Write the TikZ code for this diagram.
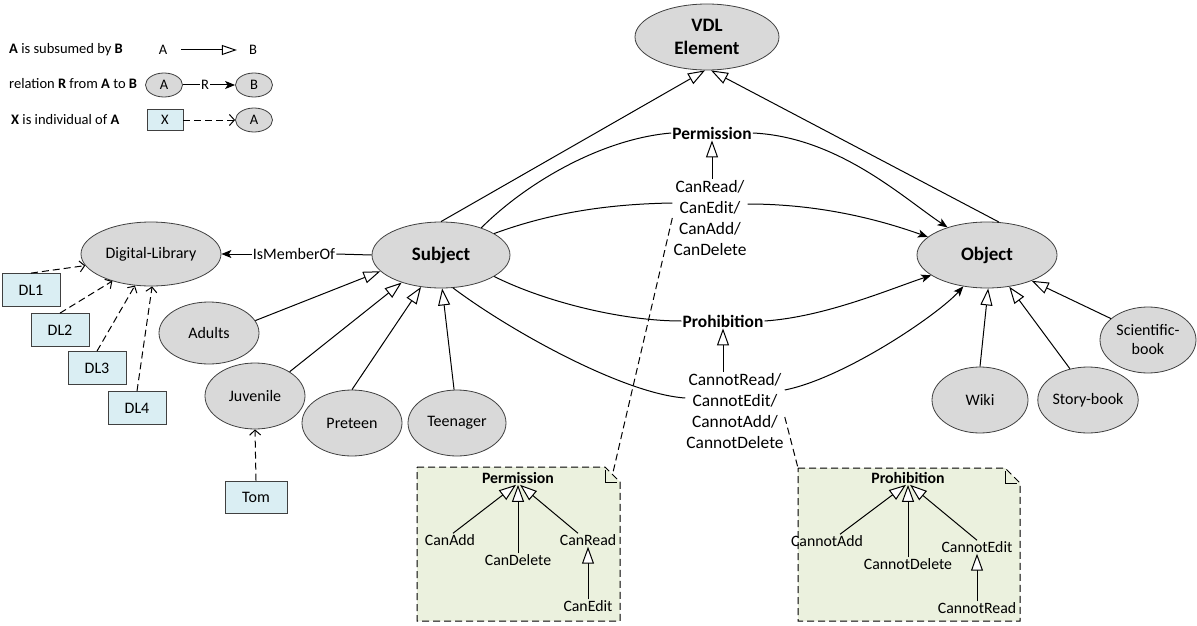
\documentclass[tikz,border=0pt]{standalone}
\usepackage{fontspec}
\setmainfont{Carlito}
\usetikzlibrary{arrows.meta,shapes.geometric}

\definecolor{ellfill}{HTML}{D9D9D9}
\definecolor{ellline}{HTML}{404040}
\definecolor{boxfill}{HTML}{DAEEF3}
\definecolor{notefill}{HTML}{EBF1DE}

\newcommand\dgNode{\fontsize{16}{19}\selectfont}
\newcommand\dgBig{\fontsize{19}{23}\selectfont\bfseries}
\newcommand\dgLab{\fontsize{17.4}{21.3}\selectfont}
\newcommand\dgNote{\fontsize{15.8}{19}\selectfont}
\newcommand\dgLeg{\fontsize{14.5}{17}\selectfont}

% note sheet with a folded top-right corner; #5 names the fold, "#5 tl" the top-left corner
\newcommand\notesheet[5]{%
  \draw[fill=notefill, line width=1pt, dash pattern=on 7pt off 4pt]
    (#1,#2) -- (#3-15,#2) -- (#3,#2+15) -- (#3,#4) -- (#1,#4) -- cycle;
  \draw[line width=1pt] (#3-15,#2+3) -- (#3-15,#2+15) -- (#3-3,#2+15);
  \coordinate (#5) at (#3-7.5,#2+7.5);
  \coordinate (#5 tl) at (#1,#2);}

\begin{document}
\begin{tikzpicture}[x=1pt,y=-1pt,
  cls/.style={ellipse, draw=ellline, fill=ellfill, line width=0.8pt, inner sep=0pt,
              align=center, font=\dgNode},
  big/.style={cls, font=\dgBig},
  ind/.style={rectangle, draw=ellline, fill=boxfill, line width=0.8pt, inner sep=0pt,
              minimum width=58pt, minimum height=33pt, font=\dgNode},
  lab/.style={inner sep=1pt, align=center, font=\dgLab},
  notetxt/.style={inner sep=1pt, font=\dgNote},
  leg/.style={inner sep=1pt, font=\dgLeg},
  legell/.style={cls, minimum width=37pt, minimum height=24pt, font=\dgLeg},
  isa/.style={line width=1pt, -{Triangle[fill=white, length=17pt, width=12pt]}},
  isasmall/.style={line width=1pt, -{Triangle[fill=white, length=17pt, width=12pt]}},
  rel/.style={line width=1pt, -{Stealth[length=10pt, width=8pt, inset=2.5pt]}},
  plain/.style={line width=1pt},
  inst/.style={line width=1pt, dash pattern=on 7pt off 4pt,
               -{Straight Barb[length=5pt, width=11pt]}},
  notelink/.style={line width=1pt, dash pattern=on 7pt off 4pt}]

\useasboundingbox (0,0) rectangle (1197,626);

% ---------- legend ----------
\node[leg, anchor=west] (l1) at (8,50) {\textbf{A} is subsumed by \textbf{B}};
\node[leg] (l1a) at (163,50) {A};
\node[leg] (l1b) at (253,50) {B};
\draw[isa, -{Triangle[fill=white, length=15pt, width=10pt]}]
  ([xshift=13pt]l1a.east) -- ([xshift=-11pt]l1b.west);

\node[leg, anchor=west] (l2) at (8,84) {relation \textbf{R} from \textbf{A} to \textbf{B}};
\node[legell] (l2a) at (164,85) {A};
\node[leg] (l2r) at (205,85) {R};
\node[legell] (l2b) at (254,85) {B};
\draw[plain] (l2a) -- (l2r);
\draw[rel] (l2r) -- (l2b);

\node[leg, anchor=west] (l3) at (10,120) {\textbf{X} is individual of \textbf{A}};
\node[ind, minimum width=36pt, minimum height=21pt, font=\dgLeg] (l3x) at (165,120) {X};
\node[legell] (l3a) at (254,120) {A};
\draw[inst] (l3x) -- (l3a);

% ---------- notes ----------
\notesheet{417}{467}{620}{621}{pnote}
\notesheet{798}{468}{1020}{621}{hnote}

\node[notetxt, font=\dgNote\bfseries] (pn) at (518,478) {Permission};
\node[notetxt] (pna) at (450,540) {CanAdd};
\node[notetxt] (pnd) at (518,560) {CanDelete};
\node[notetxt] (pnr) at (588,540) {CanRead};
\node[notetxt] (pne) at (588,606) {CanEdit};
\draw[isasmall] ([xshift=3pt]pna.north) -- ([xshift=-2pt]pn.south);
\draw[isasmall] (pnd.north) -- (pn.south);
\draw[isasmall] ([xshift=-10pt]pnr.north) -- ([xshift=2pt]pn.south);
\draw[isasmall] (pne.north) -- (pnr.south);

\node[notetxt, font=\dgNote\bfseries] (hn) at (908,478) {Prohibition};
\node[notetxt] (hna) at (827,541) {CannotAdd};
\node[notetxt] (hnd) at (908,564) {CannotDelete};
\node[notetxt] (hne) at (977,547) {CannotEdit};
\node[notetxt] (hnr) at (977,608) {CannotRead};
\draw[isasmall] ([xshift=13pt]hna.north) -- ([xshift=-2pt]hn.south);
\draw[isasmall] (hnd.north) -- (hn.south);
\draw[isasmall] (hne.north) -- ([xshift=2pt]hn.south);
\draw[isasmall] (hnr.north) -- (hne.south);

% ---------- concepts ----------
\node[big, minimum width=144pt, minimum height=66pt] (vdl) at (707,37) {VDL\\Element};
\node[big, minimum width=138pt, minimum height=66pt] (sub) at (441,255) {Subject};
\node[big, minimum width=140pt, minimum height=66pt] (obj) at (987,255) {Object};
\node[cls, minimum width=140pt, minimum height=64pt] (dlib) at (151,254) {Digital-Library};
\node[cls, minimum width=100pt, minimum height=62pt] (adults) at (209,333) {Adults};
\node[cls, minimum width=100pt, minimum height=66pt] (juv) at (255,396) {Juvenile};
\node[cls, minimum width=100pt, minimum height=66pt] (pre) at (352,423) {Preteen};
\node[cls, minimum width=98pt, minimum height=66pt] (teen) at (457,423) {Teenager};
\node[cls, minimum width=96pt, minimum height=66pt] (wiki) at (980,400) {Wiki};
\node[cls, minimum width=100pt, minimum height=66pt] (story) at (1088,400) {Story-book};
\node[cls, minimum width=96pt, minimum height=66pt] (sci) at (1148,340) {Scientific-\\book};

% individuals
\node[ind] (dl1) at (31,290) {DL1};
\node[ind] (dl2) at (60,330) {DL2};
\node[ind] (dl3) at (97,368) {DL3};
\node[ind] (dl4) at (137,408) {DL4};
\node[ind, minimum width=62pt, minimum height=32pt] (tom) at (256,497) {Tom};

% relation labels
\node[lab, font=\dgLab\bfseries] (perm) at (712,133) {Permission};
\node[lab] (canlab) at (710,218) {CanRead/\\CanEdit/\\CanAdd/\\CanDelete};
\node[lab, font=\dgLab\bfseries] (prohib) at (723,321) {Prohibition};
\node[lab] (cnlab) at (735,411) {CannotRead/\\CannotEdit/\\CannotAdd/\\CannotDelete};
\node[lab, font=\dgNode] (mem) at (294,254) {IsMemberOf};

% ---------- subsumption ----------
\draw[isa] (sub.north) -- ([xshift=-2pt]vdl.south);
\draw[isa] (obj.70) -- ([xshift=4pt]vdl.south);
\draw[isa] (adults.15) -- (sub.195);
\draw[isa] (juv.35) -- (sub.-145);
\draw[isa] (pre.north) -- (sub.-122);
\draw[isa] (teen.95) -- (sub.-88);
\draw[isa] (wiki.north) -- (obj.-88);
\draw[isa] (story.120) -- (obj.-55);
\draw[isa] (sci.150) -- (obj.-30);
\draw[isa] (perm.south |- canlab.north) -- (perm.south);
\draw[isa] (prohib.south |- cnlab.north) -- (prohib.south);

% ---------- individuals ----------
\draw[inst] (dl1.north) -- (dlib.190);
\draw[inst] (dl2.north) -- (dlib.215);
\draw[inst] (dl3.north) -- (dlib.243);
\draw[inst] (dl4.north) -- (dlib.-88);
\draw[inst] (tom.north) -- (juv.south);

% ---------- relations ----------
\draw[plain] (sub.west) -- (mem.east);
\draw[rel] (mem.west) -- (dlib.east);

\draw[plain] (sub.34) .. controls +(45,-45) and +(-70,6) .. (perm.west);
\draw[rel] (perm.east) .. controls +(85,4) and +(-45,-30) .. (obj.145);

\draw[plain] (sub.22) .. controls +(60,-22) and +(-60,1) .. ([yshift=15pt]canlab.west);
\draw[rel] ([yshift=14pt]canlab.east) .. controls +(75,0) and +(-45,-16) .. (obj.163);

\draw[plain] (sub.-22) .. controls +(50,25) and +(-60,0) .. (prohib.west);
\draw[rel] (prohib.east) .. controls +(60,-4) and +(-42,14) .. (obj.-160);

\draw[plain] (sub.-70) .. controls +(60,45) and +(-60,-4) .. ([yshift=13pt]cnlab.west);
\draw[rel] ([yshift=21pt]cnlab.east) .. controls +(60,-12) and +(-25,28) .. (obj.-127);

% ---------- note links ----------
\draw[notelink] (canlab.west) -- (pnote);
\draw[notelink] ([yshift=-6pt]cnlab.east) -- (hnote tl);

\end{tikzpicture}
\end{document}
